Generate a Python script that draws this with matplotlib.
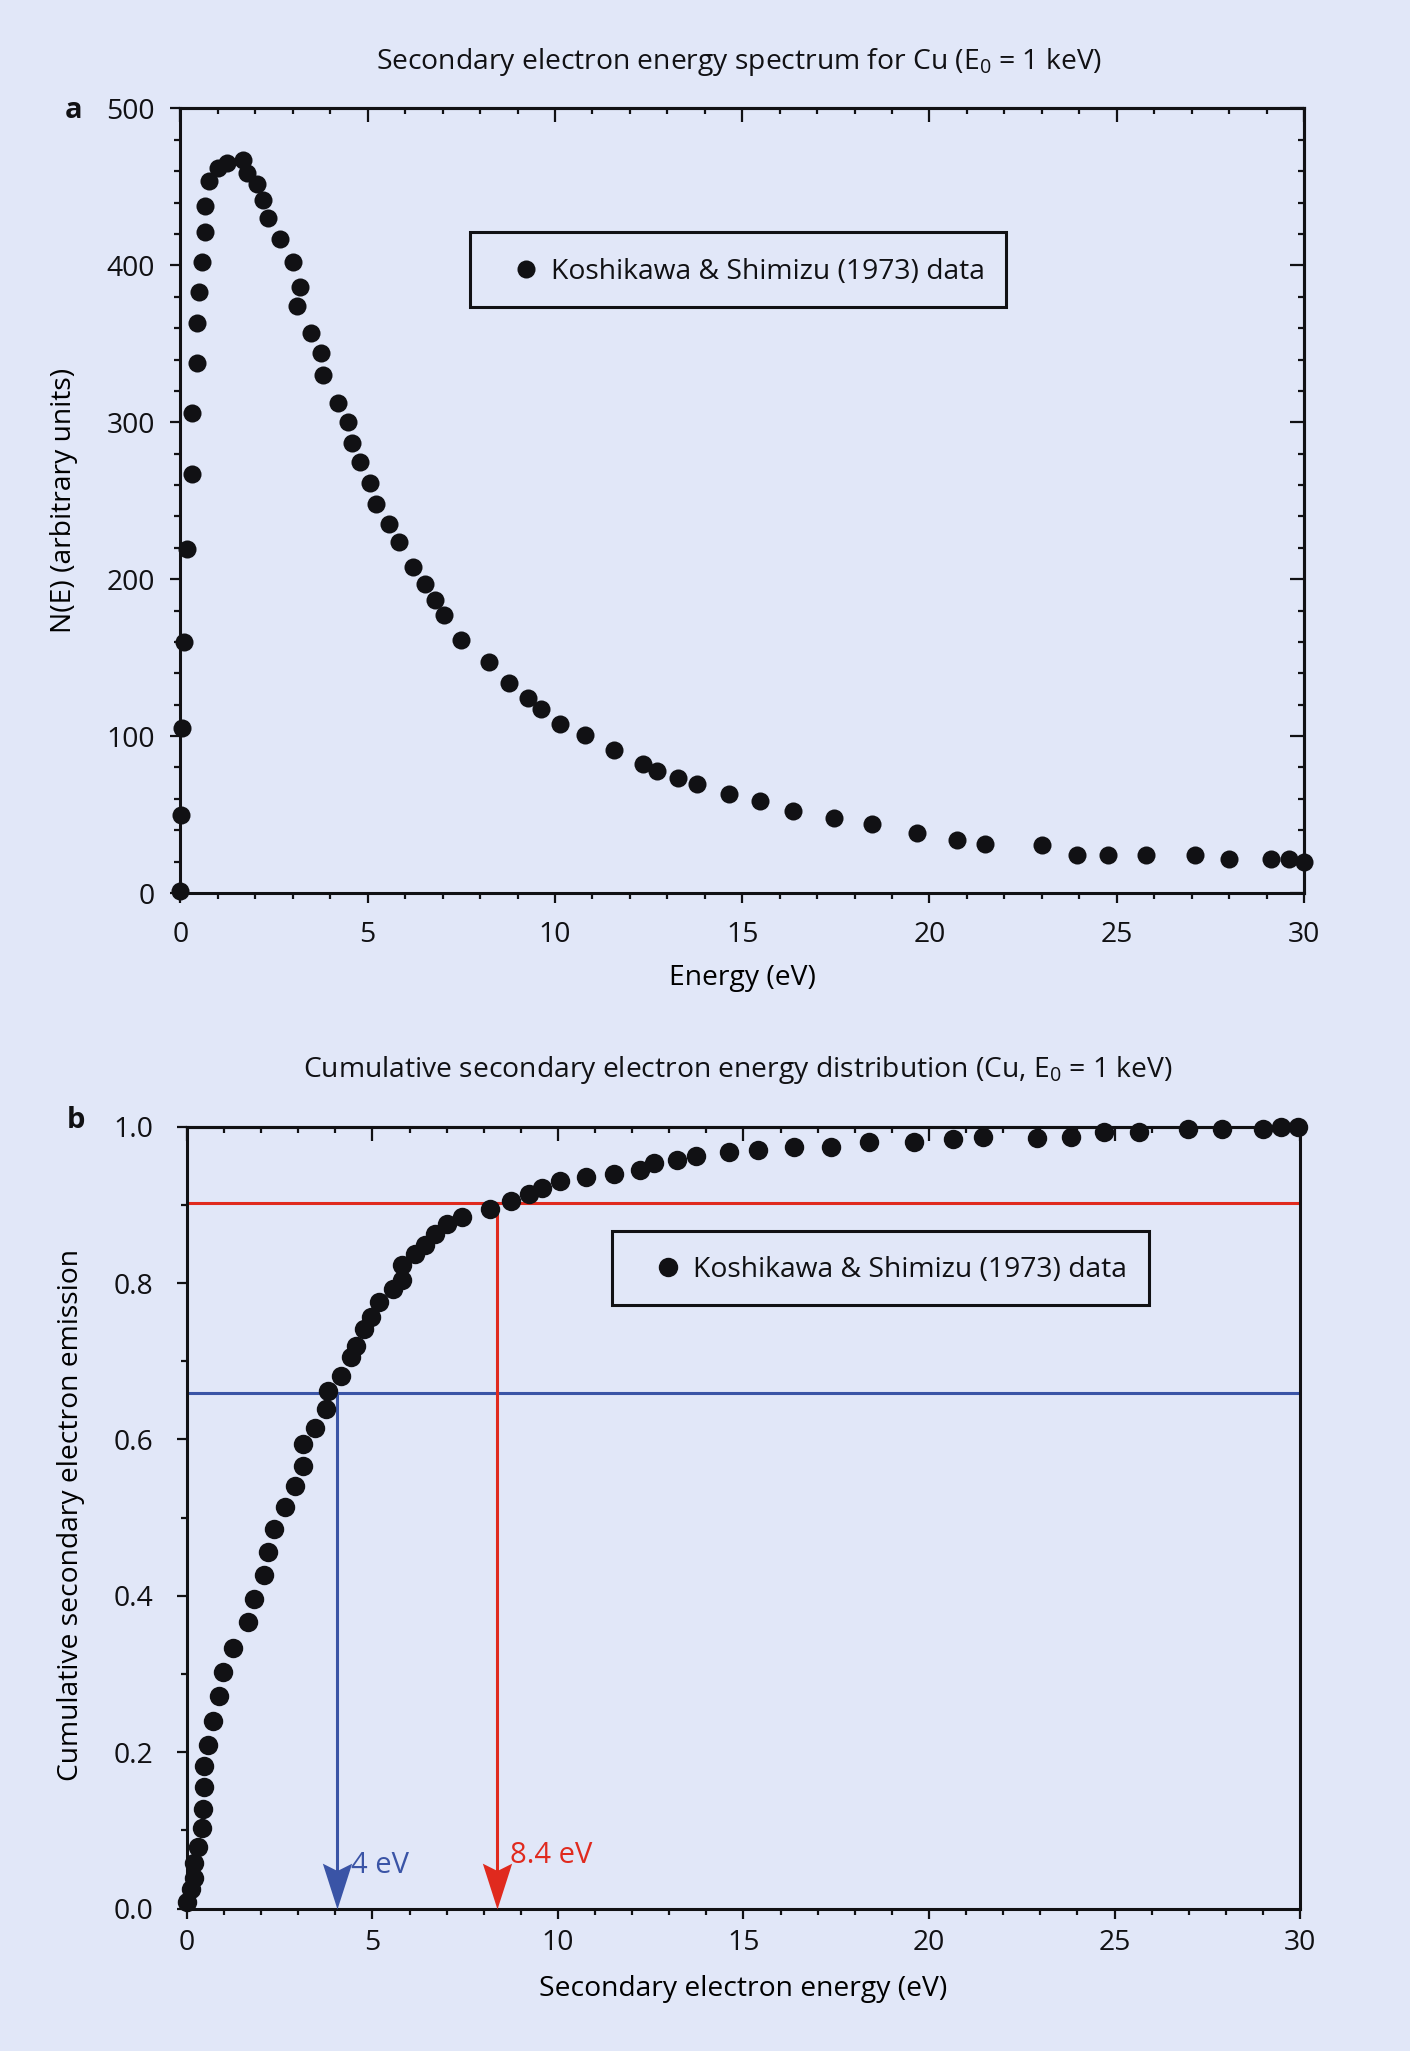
import matplotlib
matplotlib.use("Agg")
import matplotlib.pyplot as plt
from matplotlib.patches import Rectangle
from matplotlib.ticker import MultipleLocator

# Panel a: espectro de electrones secundarios, Cu (E0 = 1 keV)
energia_a = [0.0, 0.02, 0.03, 0.10, 0.17, 0.30, 0.30, 0.43, 0.43, 0.50,
             0.57, 0.65, 0.65, 0.77, 1.00, 1.25, 1.68, 1.77, 2.03, 2.21,
             2.34, 2.66, 3.01, 3.19, 3.10, 3.48, 3.74, 3.80, 4.21, 4.46,
             4.58, 4.79, 5.06, 5.22, 5.58, 5.83, 6.21, 6.54, 6.79, 7.05,
             7.50, 8.25, 8.76, 9.28, 9.63, 10.13, 10.81, 11.58, 12.36, 12.72,
             13.29, 13.80, 14.66, 15.47, 16.35, 17.45, 18.46, 19.68, 20.73, 21.47,
             23.01, 23.94, 24.78, 25.79, 27.08, 28.00, 29.13, 29.61, 30.00]
n_e = [1.5, 50, 105, 160, 219, 267, 306, 338, 363, 383,
       402, 421, 438, 454, 462, 465, 467, 459, 452, 442,
       430, 417, 402, 386, 374, 357, 344, 330, 312, 300,
       287, 275, 261, 248, 235, 224, 208, 197, 187, 177,
       161, 147, 134, 124, 117, 108, 101, 91, 82, 78,
       73.5, 69.5, 63, 58.5, 52, 48, 44, 38, 34, 31.5,
       30.5, 24, 24, 24, 24, 21.5, 21.5, 21.5, 19.5]

# Panel b: distribucion acumulada
energia_b = [0.00, 0.12, 0.19, 0.19, 0.30, 0.41, 0.42, 0.46, 0.46, 0.57,
             0.69, 0.86, 0.96, 1.25, 1.65, 1.80, 2.08, 2.19, 2.35, 2.64,
             2.91, 3.13, 3.13, 3.46, 3.74, 3.80, 4.14, 4.42, 4.55, 4.76,
             4.95, 5.18, 5.54, 5.80, 5.80, 6.14, 6.41, 6.68, 7.02, 7.41,
             8.18, 8.73, 9.21, 9.58, 10.05, 10.75, 11.52, 12.22, 12.60, 13.22,
             13.72, 14.61, 15.39, 16.35, 17.37, 18.37, 19.60, 20.65, 21.45, 22.92,
             23.82, 24.71, 25.67, 26.99, 27.91, 29.00, 29.49, 29.95]
acumulado = [0.008, 0.025, 0.039, 0.059, 0.079, 0.103, 0.128, 0.155, 0.182, 0.209,
             0.240, 0.272, 0.303, 0.333, 0.366, 0.396, 0.427, 0.456, 0.486, 0.514,
             0.541, 0.566, 0.594, 0.615, 0.639, 0.662, 0.681, 0.706, 0.719, 0.741,
             0.757, 0.776, 0.792, 0.804, 0.823, 0.837, 0.849, 0.863, 0.876, 0.885,
             0.895, 0.905, 0.914, 0.921, 0.930, 0.935, 0.940, 0.945, 0.954, 0.957,
             0.962, 0.967, 0.970, 0.974, 0.974, 0.980, 0.980, 0.984, 0.987, 0.986,
             0.987, 0.993, 0.993, 0.997, 0.997, 0.997, 1.000, 1.000]

corte_energia = [4.05, 8.35]
corte_fraccion = [0.659, 0.902]
corte_texto = ["4 eV", "8.4 eV"]
corte_texto_y = [0.055, 0.068]
corte_color = ["#3a54a6", "#e02a1e"]

FONDO = "#e1e7f8"
NEGRO = "#111114"
LEYENDA = "Koshikawa & Shimizu (1973) data"
TAM = 20.3

plt.rcParams["font.family"] = ["Open Sans", "DejaVu Sans"]
plt.rcParams["font.size"] = TAM
plt.rcParams["mathtext.fontset"] = "custom"
plt.rcParams["mathtext.rm"] = "Open Sans"
plt.rcParams["mathtext.default"] = "regular"
plt.rcParams["text.color"] = NEGRO
plt.rcParams["xtick.color"] = NEGRO
plt.rcParams["ytick.color"] = NEGRO


def estilo_ejes(ax, y_mayor, y_menor, ticks_derecha, pad_x, pad_y):
    ax.set_facecolor(FONDO)
    for lado in ax.spines.values():
        lado.set_linewidth(2.2)
        lado.set_color(NEGRO)
    ax.xaxis.set_major_locator(MultipleLocator(5))
    ax.xaxis.set_minor_locator(MultipleLocator(1))
    ax.yaxis.set_major_locator(MultipleLocator(y_mayor))
    ax.yaxis.set_minor_locator(MultipleLocator(y_menor))
    ax.tick_params(which="major", direction="out", length=7.5, width=1.6)
    ax.tick_params(which="minor", direction="out", length=4, width=1.6)
    ax.tick_params(axis="x", pad=pad_x)
    ax.tick_params(axis="y", pad=pad_y)

    # ticks espejo hacia dentro (arriba y, en a, a la derecha)
    arriba = ax.secondary_xaxis("top")
    arriba.xaxis.set_major_locator(MultipleLocator(5))
    arriba.xaxis.set_minor_locator(MultipleLocator(1))
    arriba.tick_params(which="major", direction="in", length=10, width=1.6, labeltop=False)
    arriba.tick_params(which="minor", direction="in", length=4, width=1.6)
    arriba.spines["top"].set_linewidth(2.2)
    if ticks_derecha:
        derecha = ax.secondary_yaxis("right")
        derecha.yaxis.set_major_locator(MultipleLocator(y_mayor))
        derecha.yaxis.set_minor_locator(MultipleLocator(y_menor))
        derecha.tick_params(which="major", direction="in", length=10, width=1.6, labelright=False)
        derecha.tick_params(which="minor", direction="in", length=4, width=1.6)
        derecha.spines["right"].set_linewidth(2.2)


def caja_leyenda(ax, x0, y0, x1, y1, xh, yc, h):
    ax.add_patch(Rectangle((x0, y0), x1 - x0, y1 - y0, transform=ax.transAxes,
                           fill=False, lw=2.2, ec=NEGRO, zorder=4))
    ax.legend(handles=[h], labels=[LEYENDA], loc="center left", bbox_to_anchor=(xh, yc),
              frameon=False, borderpad=0, borderaxespad=0, handlelength=1.0,
              handletextpad=0.38, numpoints=1, fontsize=TAM)


fig = plt.figure(figsize=(14.1, 20.51), dpi=100, facecolor=FONDO)

# ---- panel a ----
ax_a = fig.add_axes([0.1280, 0.5646, 0.7968, 0.3825])
puntos_a, = ax_a.plot(energia_a, n_e, "o", color=NEGRO, ms=13, mew=0, clip_on=False, zorder=5)
ax_a.set_xlim(0, 30)
ax_a.set_ylim(0, 500)
estilo_ejes(ax_a, 100, 20, True, 13, 11)
ax_a.set_xlabel("Energy (eV)")
ax_a.xaxis.set_label_coords(0.5, -0.09)
ax_a.set_ylabel("N(E) (arbitrary units)")
ax_a.yaxis.set_label_coords(-0.091, 0.5)
caja_leyenda(ax_a, 0.2573, 0.7465, 0.7348, 0.8432, 0.2948, 0.7916, puntos_a)

# ---- panel b ----
ax_b = fig.add_axes([0.1326, 0.0694, 0.7894, 0.3813])
for e, f, c, t, ty in zip(corte_energia, corte_fraccion, corte_color, corte_texto, corte_texto_y):
    ax_b.hlines(f, 0, 30, color=c, lw=2.2, zorder=2)
    ax_b.plot([e, e], [f, 0.03], color=c, lw=2.2, zorder=2)
    ax_b.plot(e, 0, marker=[(0, 0), (-0.32, 1), (0, 0.84), (0.32, 1)], ms=66, mew=0,
              color=c, clip_on=False, zorder=3)
    ax_b.text(e + 0.37, ty, t, color=c, fontsize=21, va="center", ha="left")
puntos_b, = ax_b.plot(energia_b, acumulado, "o", color=NEGRO, ms=14, mew=0, clip_on=False, zorder=5)
ax_b.set_xlim(0, 30)
ax_b.set_ylim(0, 1.0)
estilo_ejes(ax_b, 0.2, 0.1, False, 7, 17)
ax_b.yaxis.set_major_formatter(matplotlib.ticker.FormatStrFormatter("%.1f"))
ax_b.set_xlabel("Secondary electron energy (eV)")
ax_b.xaxis.set_label_coords(0.5, -0.085)
ax_b.set_ylabel("Cumulative secondary electron emission")
ax_b.yaxis.set_label_coords(-0.092, 0.503)
caja_leyenda(ax_b, 0.3819, 0.7714, 0.8639, 0.8666, 0.4199, 0.817, puntos_b)

fig.text(739 / 1410, 1 - 61.5 / 2051, "Secondary electron energy spectrum for Cu (E$_0$ = 1 keV)",
         ha="center", va="center")
fig.text(737.7 / 1410, 1 - 1070 / 2051,
         "Cumulative secondary electron energy distribution (Cu, E$_0$ = 1 keV)",
         ha="center", va="center")
fig.text(74 / 1410, 1 - 110 / 2051, "a", ha="center", va="center", weight="bold", fontsize=21)
fig.text(76 / 1410, 1 - 1120 / 2051, "b", ha="center", va="center", weight="bold", fontsize=21)

fig.savefig("out.png", dpi=100, facecolor=FONDO)
